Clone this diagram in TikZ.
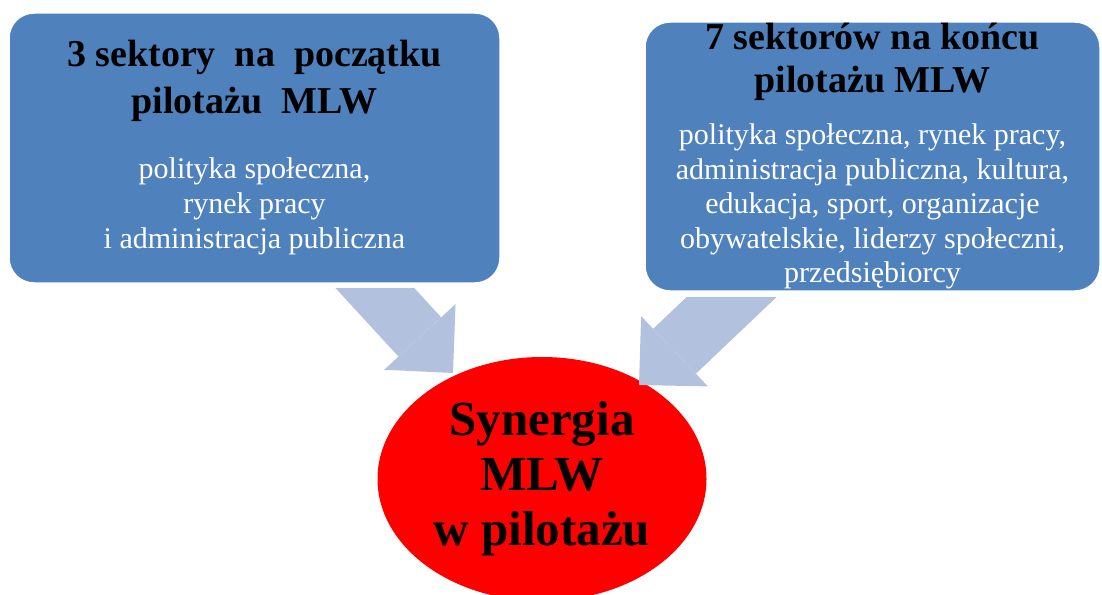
\documentclass[tikz,border=0pt]{standalone}
\usepackage{fontspec}
\setmainfont{Liberation Serif}
\usepackage{tikz}
\usetikzlibrary{arrows.meta,shapes.geometric}
\definecolor{sblue}{HTML}{4F81BD}
\definecolor{sarrow}{HTML}{B2C2DE}
\definecolor{sred}{HTML}{FF0000}
\newcommand{\fontsp}{\spaceskip=0pt\xspaceskip=0pt\centering}

\begin{document}
\begin{tikzpicture}[
  x=1pt,y=-1pt,
  bx/.style={fill=sblue,draw=white,line width=1.5pt,rounded corners=25pt,inner sep=0pt},
  el/.style={ellipse,fill=sred,inner sep=0pt,minimum width=329pt,minimum height=244pt,
             text width=230pt,font=\bfseries\fontsize{49}{55}\selectfont},
  ar/.style={draw=sarrow,-{Triangle[length=49pt,width=97pt,line width=0pt,fill=sarrow]}}
]
\useasboundingbox (0,0) rectangle (1102,594);
% sectors
\node[bx,minimum width=491pt,minimum height=270pt,text width=470pt] (start) at (254.5,148)
  {\fontsp{\bfseries\fontsize{38}{47}\selectfont 3 sektory~ na~ początku\\pilotażu~ MLW\par}
   \vspace{30pt}
   {\color{white}\fontsize{30}{35}\selectfont polityka społeczna,\\rynek pracy\\
    i administracja publiczna\par}};
\node[bx,minimum width=455pt,minimum height=269pt,text width=440pt] (end) at (872.5,156.5)
  {\fontsp{\bfseries\fontsize{38}{43}\selectfont 7 sektorów na końcu\\pilotażu MLW\par}
   \vspace{17.5pt}
   {\color{white}\fontsize{30}{34.5}\selectfont polityka społeczna, rynek pracy,\\
    administracja publiczna, kultura,\\edukacja, sport, organizacje\\
    obywatelskie, liderzy społeczni,\\przedsiębiorcy\par}};

% synergy
\node[el] (syn) at (542,479) {\fontsp Synergia\\MLW\\w pilotażu\par};

% arrows
\coordinate (l0) at (350,261);
\coordinate (l1) at (453,373);
\coordinate (r0) at (760,270);
\coordinate (r1) at (639,385);
\begin{scope}
  \clip (0,288) rectangle (1102,594);
  \draw[ar,line width=58pt] (l0) -- (l1);
\end{scope}
\begin{scope}
  \clip (0,297) rectangle (1102,594);
  \draw[ar,line width=62pt] (r0) -- (r1);
\end{scope}
\end{tikzpicture}
\end{document}
